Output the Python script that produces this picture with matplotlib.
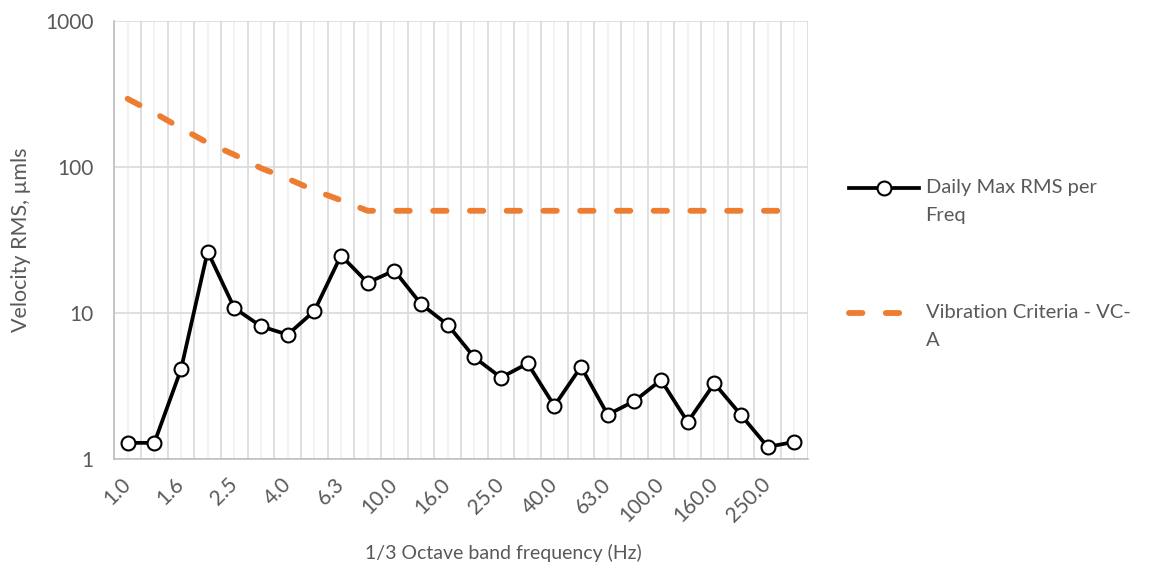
import matplotlib
matplotlib.use("Agg")
import matplotlib.pyplot as plt
import numpy as np

# 1/3 octave band centre frequencies (Hz)
freq_labels = ["1.0", "1.25", "1.6", "2.0", "2.5", "3.15", "4.0", "5.0", "6.3", "8.0",
               "10.0", "12.5", "16.0", "20.0", "25.0", "31.5", "40.0", "50.0", "63.0",
               "80.0", "100.0", "125.0", "160.0", "200.0", "250.0", "315.0"]

daily_max_rms = [1.29, 1.29, 4.1, 26.3, 10.8, 8.1, 7.1, 10.3, 24.7, 16.1,
                 19.5, 11.5, 8.3, 4.96, 3.61, 4.51, 2.31, 4.28, 2.01, 2.49,
                 3.47, 1.79, 3.29, 2.0, 1.21, 1.31]

vc_a = [292, 234, 184, 146, 121, 98, 83, 69, 59, 50,
        50, 50, 50, 50, 50, 50, 50, 50, 50, 50,
        50, 50, 50, 50, 50, 50]

TEXT = "#595959"
GRID = "#d9d9d9"
ORANGE = "#ED7D31"

plt.rcParams["font.family"] = ["Lato", "DejaVu Sans"]

fig = plt.figure(figsize=(11.51, 5.74), dpi=100)
ax = fig.add_axes([114.3 / 1151, 1 - 459 / 574, (807.7 - 114.3) / 1151, (459 - 20.7) / 574])

x = np.arange(len(freq_labels))

ax.plot(x, daily_max_rms, "-o", color="black", linewidth=2.7,
        markersize=10, markerfacecolor="white", markeredgecolor="black",
        markeredgewidth=1.5, label="Daily Max RMS per\nFreq", zorder=4)
ax.plot(x, vc_a, color=ORANGE, linewidth=4.2, dashes=(2.3, 4.0),
        dash_capstyle="round", label="Vibration Criteria - VC-\nA", zorder=3)

ax.set_yscale("log")
ax.set_ylim(1, 1000)
ax.set_yticks([1, 10, 100, 1000], labels=["1", "10", "100", "1000"])
ax.yaxis.set_minor_locator(matplotlib.ticker.NullLocator())
ax.set_xlim(-0.5, len(x) - 0.5)

# gridlines on category boundaries (major) and centres (minor)
ax.set_xticks(np.arange(len(x) + 1) - 0.5, labels=[""] * (len(x) + 1))
ax.set_xticks(x, labels=[l if i % 2 == 0 else "" for i, l in enumerate(freq_labels)],
              minor=True)
ax.grid(True, which="major", color=GRID, linewidth=1.2)
ax.grid(True, which="minor", axis="x", color="#f0f0f0", linewidth=1.2)
ax.set_axisbelow(True)

ax.tick_params(axis="both", which="both", length=0, colors=TEXT, labelsize=15)
ax.tick_params(axis="y", pad=15)
ax.tick_params(axis="x", which="minor", pad=16)
for lbl in ax.get_xticklabels(minor=True):
    lbl.set_rotation(45)
    lbl.set_rotation_mode("anchor")
    lbl.set_ha("right")
    lbl.set_va("center")

for side in ["top", "right"]:
    ax.spines[side].set_visible(False)
for side in ["left", "bottom"]:
    ax.spines[side].set_color("#bfbfbf")
    ax.spines[side].set_linewidth(1.2)

ax.set_ylabel("Velocity RMS, µmls", color=TEXT, fontsize=15.5, labelpad=10)
fig.text(503 / 1151, 1 - 553 / 574, "1/3 Octave band frequency (Hz)", color=TEXT,
         fontsize=14, ha="center", va="center")

leg = ax.legend(loc="upper left", bbox_to_anchor=(841 / 1151, 1 - 171 / 574),
                bbox_transform=fig.transFigure, frameon=False, fontsize=14.5,
                borderaxespad=0, handlelength=3.45, handleheight=1.2,
                handletextpad=0.35, labelspacing=4.0, labelcolor=TEXT)
for t in leg.get_texts():
    t.set_linespacing(1.75)
# keep the handle level with the first line of each label
for col in leg._legend_handle_box.get_children():
    for row in col.get_children():
        row.align = "top"

fig.savefig("out.png", dpi=100)
